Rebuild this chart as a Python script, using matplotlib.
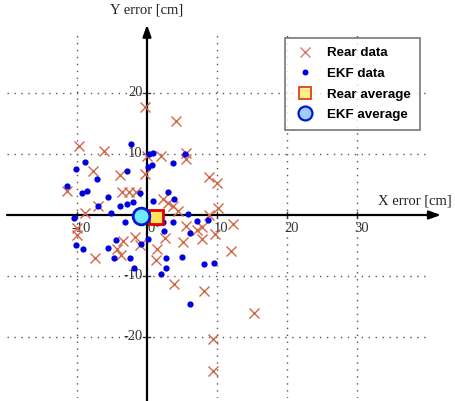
import numpy as np
import matplotlib
matplotlib.use('Agg')
import matplotlib.pyplot as plt
from matplotlib.lines import Line2D

# error samples [cm]
rear_x = [-0.3, 4.1, -9.7, -6.1, 0.0, 2.0, 5.6, 5.6, -7.7, -3.9, -0.3, 8.9, 10.0,
          -11.4, -3.6, -2.6, -1.6, 2.3, 3.0, 3.7, -7.0, -8.9, 4.4, 10.1, 8.9,
          -10.0, -10.0, 5.6, 7.1, 7.9, 9.7, 12.3, 5.1, 7.9, 2.6, -1.7, -3.4,
          -1.0, -4.3, 1.4, -3.7, -7.4, 1.3, 3.9, 8.1, 9.4, 9.4, 12.0, 15.3]
rear_y = [17.7, 15.4, 11.3, 10.5, 9.7, 9.7, 10.2, 9.2, 7.2, 6.6, 6.7, 6.2, 5.2,
          3.9, 3.8, 3.8, 3.8, 2.6, 2.0, 1.5, 1.5, 0.3, 0.7, 1.1, 0.0,
          -2.1, -3.3, -1.8, -2.5, -2.0, -3.1, -1.5, -4.4, -3.9, -3.8, -3.6, -4.3,
          -4.9, -5.6, -5.6, -6.6, -7.0, -7.4, -11.3, -12.5, -20.3, -25.6, -5.9, -16.1]

ekf_x = [-2.3, -8.9, -10.1, -7.1, -11.4, -9.3, -8.6, -5.6, -2.9, 0.3, 0.9, 0.1, 0.7,
         3.7, 5.4, 3.0, 3.9, 0.9, -1.0, -2.0, -2.9, -3.9, -7.0, -5.1, -1.4, -3.1,
         -10.4, 2.3, 3.7, 7.1, 8.7, 5.9, 6.1, 0.1, 2.4, -4.4, -5.6, -10.1, -9.1,
         -4.7, -2.4, -1.9, 2.7, 5.0, 2.7, 2.0, 8.1, 9.6, 6.1, 1.4, -0.9]
ekf_y = [11.6, 8.7, 7.5, 5.9, 4.8, 3.6, 3.9, 3.0, 7.2, 10.0, 10.2, 7.9, 8.2,
         8.5, 10.0, 3.8, 2.6, 2.3, 3.6, 2.1, 1.8, 1.5, 1.5, 0.3, 0.5, -1.1,
         -0.5, -1.1, -1.1, -1.0, -0.8, 0.2, -3.0, -3.9, -2.6, -4.1, -5.4, -4.9, -5.6,
         -7.0, -7.0, -8.7, -7.0, -6.9, -8.7, -9.7, -8.0, -7.9, -14.6, -1.3, -4.8]

rear_avg = (1.3, -0.3)
ekf_avg = (-0.9, -0.1)

xticks = [-10, 10, 20, 30]
yticks = [-20, -10, 10, 20]
xlabels = ['-10', '0', '10', '20', '30']
xlabel_pos = [-10, 0, 10, 20, 30]

serif = ['Liberation Serif', 'DejaVu Serif']
axcol = '#3a3a3a'

fig = plt.figure(figsize=(4.56, 4.01), dpi=100)
ax = fig.add_axes([7 / 456, 0.0075, 0.9287, 0.9127])
ax.set_xlim(-20, 40.5)
ax.set_ylim(-30, 30)
for s in ax.spines.values():
    s.set_visible(False)
ax.set_xticks(xticks)
ax.set_yticks(yticks)
ax.tick_params(length=0, labelbottom=False, labelleft=False)
ax.grid(True, color='#555555', linestyle=(0, (1, 4)), linewidth=1.0)

# axes through the origin, with arrows
arr = dict(arrowstyle='-|>,head_length=0.7,head_width=0.25', color='black',
           lw=1.6, shrinkA=0, shrinkB=0)
ax.annotate('', xy=(42, 0), xytext=(-20, 0), arrowprops=arr, annotation_clip=False)
ax.annotate('', xy=(0, 31.2), xytext=(0, -30.5), arrowprops=arr, annotation_clip=False)

for xv, lab in zip(xlabel_pos, xlabels):
    if xv != 0:
        ax.plot([xv, xv], [-0.5, 0.5], color=axcol, lw=1, clip_on=False)
    ax.text(xv + 0.6, -1.1, lab, ha='center', va='top', fontsize=10.5,
            family=serif, color='#333333')
for yv in yticks:
    ax.plot([-0.5, 0.5], [yv, yv], color=axcol, lw=1)
    ax.text(-0.6, yv, str(yv), ha='right', va='center', fontsize=10.5,
            family=serif, color='#333333')

ax.text(0, 32.6, 'Y error [cm]', ha='center', va='bottom', fontsize=10.5,
        family=serif, color='#222222', clip_on=False)
ax.text(33.0, 1.2, 'X error [cm]', ha='left', va='bottom', fontsize=10.5,
        family=serif, color='#222222', clip_on=False)

ax.plot(rear_x, rear_y, 'x', color='#d2674a', ms=6.5, mew=1.0, zorder=3)
ax.plot(ekf_x, ekf_y, 'o', color='#0000e0', ms=4.5, mew=0, zorder=4)
ax.plot(*rear_avg, 's', color='#ffe45c', mec='#e00000', ms=10, mew=2, zorder=6)
ax.plot(*ekf_avg, 'o', color='#70e8ff', mec='#0018d0', ms=12, mew=2, zorder=6)

handles = [
    Line2D([], [], ls='none', marker='x', color='#e07a70', ms=7, mew=1.0),
    Line2D([], [], ls='none', marker='o', color='#0000e0', ms=4.3, mew=0),
    Line2D([], [], ls='none', marker='s', color='#fff08a', mec='#e04020', ms=8, mew=1.3),
    Line2D([], [], ls='none', marker='o', color='#a0ccff', mec='#0018d0', ms=10, mew=1.6),
]
leg = ax.legend(handles, ['Rear data', 'EKF data', 'Rear average', 'EKF average'],
                loc='upper left', bbox_to_anchor=(271 / 423.5, 1 + 1 / 366),
                prop={'family': 'Liberation Sans', 'weight': 'bold', 'size': 9.6},
                frameon=True, fancybox=False, edgecolor='#555555',
                labelspacing=0.62, handletextpad=0.9, borderpad=0.7,
                handlelength=1.6)
leg.get_frame().set_linewidth(1.2)
leg.set_zorder(10)

fig.savefig('out.png', dpi=100, facecolor='white')
